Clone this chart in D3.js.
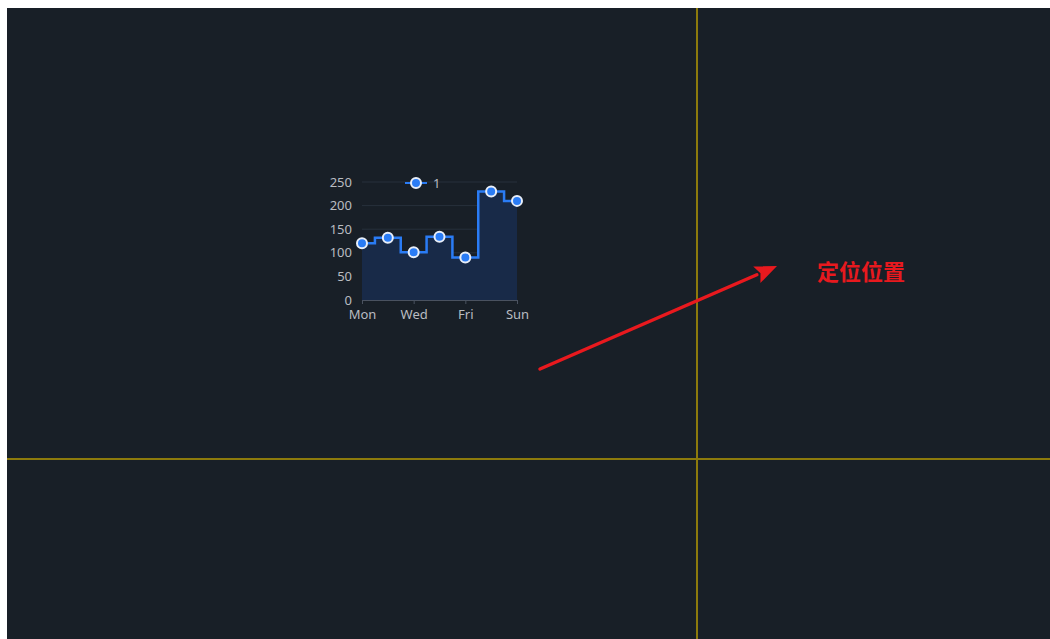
<!DOCTYPE html>
<html><head><meta charset="utf-8">
<script src="https://cdn.jsdelivr.net/npm/d3@7"></script>
<style>html,body{margin:0;padding:0;background:#fff;}svg{display:block;}</style>
</head><body>
<svg id="c" width="1050" height="639"></svg>
<script>
const categories = ["Mon","Tue","Wed","Thu","Fri","Sat","Sun"];
const values = [120, 132, 101, 134, 90, 230, 210];
const yTicks = [0, 50, 100, 150, 200, 250];
const xTickLabels = ["Mon","Wed","Fri","Sun"];
const seriesName = "1";
const annotation = "定位位置";

const svg = d3.select("#c");
svg.append("rect").attr("x",7).attr("y",8).attr("width",1043).attr("height",631).attr("fill","#181f27");

const x = d3.scalePoint().domain(categories).range([362, 517]);
const y = d3.scaleLinear().domain([0, 250]).range([300, 182]);

const g = svg.append("g");
g.selectAll("line.grid").data(yTicks.slice(1)).join("line")
  .attr("x1",362).attr("x2",517).attr("y1",d=>y(d)).attr("y2",d=>y(d))
  .attr("stroke","#27303c").attr("stroke-width",1);

const area = d3.area().x((d,i)=>x(categories[i])).y0(y(0)).y1(d=>y(d)).curve(d3.curveStep);
g.append("path").datum(values).attr("d",area).attr("fill","#182a48");
const line = d3.line().x((d,i)=>x(categories[i])).y(d=>y(d)).curve(d3.curveStep);
g.append("path").datum(values).attr("d",line).attr("fill","none").attr("stroke","#2a7cf5").attr("stroke-width",2.5);

const font = "'Noto Sans', sans-serif";
const yAxis = d3.axisLeft(y).tickValues(yTicks).tickSize(0).tickPadding(10);
const ya = g.append("g").attr("transform","translate(362,0)").call(yAxis);
ya.select(".domain").remove();
ya.selectAll("text").attr("fill","#b9bcc1").style("font-family",font).style("font-size","13px");

const xAxis = d3.axisBottom(x).tickValues(xTickLabels).tickSize(4).tickPadding(6);
const xa = g.append("g").attr("transform","translate(0,300)").call(xAxis);
xa.select(".domain").attr("stroke","#4a5260");
xa.selectAll(".tick line").attr("stroke","#4a5260");
xa.selectAll("text").attr("fill","#b9bcc1").style("font-family",font).style("font-size","13px");

g.selectAll("circle.pt").data(values).join("circle")
  .attr("cx",(d,i)=>x(categories[i])).attr("cy",d=>y(d)).attr("r",5)
  .attr("fill","#2a7cf5").attr("stroke","#e8eef8").attr("stroke-width",2);

const lg = svg.append("g").attr("transform","translate(416,183)");
lg.append("line").attr("x1",-11).attr("x2",11).attr("stroke","#2a7cf5").attr("stroke-width",2);
lg.append("circle").attr("r",5).attr("fill","#2a7cf5").attr("stroke","#e8eef8").attr("stroke-width",2);
lg.append("text").attr("x",17).attr("y",4.5).text(seriesName).attr("fill","#b9bcc1")
  .style("font-family",font).style("font-size","13px");

svg.append("line").attr("x1",697).attr("x2",697).attr("y1",8).attr("y2",639).attr("stroke","#8c7a0c").attr("stroke-width",2);
svg.append("line").attr("x1",7).attr("x2",1050).attr("y1",459).attr("y2",459).attr("stroke","#8c7a0c").attr("stroke-width",2);

const x0=540,y0=369,x1=777,y1=266;
const ang=Math.atan2(y1-y0,x1-x0);
const hl=22, hw=9;
const bx=x1-hl*Math.cos(ang), by=y1-hl*Math.sin(ang);
svg.append("line").attr("x1",x0).attr("y1",y0).attr("x2",bx).attr("y2",by).attr("stroke","#e8191e").attr("stroke-width",3.5).attr("stroke-linecap","round");
const px=-Math.sin(ang), py=Math.cos(ang);
svg.append("path").attr("d",`M${x1},${y1}L${bx+px*hw},${by+py*hw}L${bx+4*Math.cos(ang)},${by+4*Math.sin(ang)}L${bx-px*hw},${by-py*hw}Z`).attr("fill","#e8191e");

svg.append("text").attr("x",817).attr("y",280).text(annotation).attr("fill","#e8191e")
  .style("font-family","'Noto Sans CJK SC', sans-serif").style("font-size","22px").style("font-weight","bold");
</script>
</body></html>
